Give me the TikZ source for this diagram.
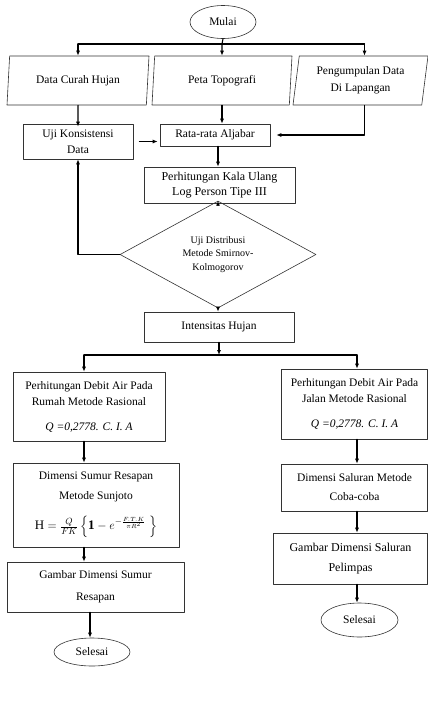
\documentclass[tikz,border=0pt]{standalone}
\usepackage{amsmath}
\usepackage{fontspec}
\setmainfont{Liberation Serif}
\usepackage{tikz}
\usetikzlibrary{arrows.meta, shapes.geometric, calc}

\begin{document}
\begin{tikzpicture}[x=1pt,y=-1pt,>={Latex[length=5pt,width=4pt]},line cap=round,line join=round,
  font=\fontsize{11.5}{16}\selectfont,
  proc/.style={draw=black!80, line width=0.6pt, rectangle, align=center, inner sep=1pt},
  io/.style={draw=black!80, line width=0.6pt, trapezium, trapezium left angle=78,
    trapezium right angle=102, trapezium stretches body, align=center, inner sep=1pt,
    minimum height=49},
  term/.style={draw=black!80, line width=0.6pt, ellipse, inner sep=0pt},
  decide/.style={draw=black!80, line width=0.6pt, diamond, inner sep=0pt, align=center,
    font=\fontsize{10}{13.5}\selectfont},
  flow/.style={->, line width=1.1pt}]
  \useasboundingbox (0,0) rectangle (428,710);

  % start and input data
  \node[term, minimum width=66, minimum height=33] (mulai) at (223,22) {Mulai};
  \node[io, minimum width=142] (curah) at (78,80.5) {Data Curah Hujan};
  \node[io, minimum width=140] (peta) at (222,80.5) {Peta Topografi};
  \node[io, minimum width=135] (lapangan) at (360.5,80.5) {Pengumpulan Data\\[1pt] Di Lapangan};

  % rainfall analysis
  \node[proc, minimum width=110, minimum height=35] (konsistensi) at (78,141.5) {Uji Konsistensi\\ Data};
  \node[proc, minimum width=110, minimum height=22] (aljabar) at (215,135) {Rata-rata Aljabar};
  \node[proc, minimum width=151, minimum height=36, font=\fontsize{12}{15}\selectfont]
    (kala) at (219.5,185) {Perhitungan Kala Ulang\\ Log Person Tipe III};
  \node[decide, minimum width=196, minimum height=81] (distribusi) at (218,254.5)
    {Uji Distribusi\\ Metode Smirnov-\\ Kolmogorov};
  \node[proc, minimum width=150, minimum height=30] (intensitas) at (219,327) {Intensitas Hujan};

  % left branch
  \node[proc, minimum width=152, minimum height=69] (debitrumah) at (89,406.5)
    {Perhitungan Debit Air Pada\\ Rumah Metode Rasional\\[9pt] \textit{Q =0,2778. C. I. A}};
  \node[proc, minimum width=166, minimum height=84, font=\fontsize{11.5}{20}\selectfont]
    (sumur) at (96,505)
    {Dimensi Sumur Resapan\\ Metode Sunjoto\\[10pt]
     \fontsize{13}{15}\selectfont
     $\mathrm{H} = \frac{Q}{F K}\left\{\mathbf{1} - e^{-\frac{F.T.K}{\pi R^2}}\;\right\}$};
  \node[proc, minimum width=177, minimum height=50, font=\fontsize{11.5}{22}\selectfont]
    (gambarsumur) at (95.5,587) {Gambar Dimensi Sumur\\ Resapan};
  \node[term, minimum width=76, minimum height=28] (selesaikiri) at (92,652) {Selesai};

  % right branch
  \node[proc, minimum width=146, minimum height=70] (debitjalan) at (354.5,404)
    {Perhitungan Debit Air Pada\\ Jalan Metode Rasional\\[9pt] \textit{Q =0,2778. C. I. A}};
  \node[proc, minimum width=146, minimum height=47, font=\fontsize{11.5}{19}\selectfont]
    (saluran) at (354.5,487.5) {Dimensi Saluran Metode\\ Coba-coba};
  \node[proc, minimum width=154, minimum height=51, font=\fontsize{12}{20}\selectfont]
    (gambarsaluran) at (350.5,558.5) {Gambar Dimensi Saluran\\ Pelimpas};
  \node[term, minimum width=77, minimum height=34] (selesaikanan) at (359.5,620) {Selesai};

  % connectors
  \coordinate (cabang) at (222,44);
  \draw[line width=1.1pt] (mulai.south) -- (cabang);
  \draw[line width=1.1pt] (cabang -| curah.north) -- ([xshift=4]cabang -| lapangan.north);
  \draw[flow] (cabang -| curah.north) -- (curah.north);
  \draw[flow] (cabang) -- (peta.north);
  \draw[flow] ([xshift=4]cabang -| lapangan.north) -- ([xshift=4]lapangan.north);

  \draw[flow] (curah.south) -- ([yshift=-3]konsistensi.north);
  \draw[flow] (peta.south) -- (peta.south |- aljabar.north);
  \draw[flow] ([xshift=6]konsistensi.east) -- ([xshift=-2]konsistensi.east -| aljabar.west);
  \draw[flow] ([xshift=4]lapangan.south) |- ([xshift=6]aljabar.east);
  \draw[flow] ([xshift=3]aljabar.south) -- ([xshift=3]aljabar.south |- kala.north);
  \draw[flow] ([xshift=-1.5]kala.south) -- (distribusi.north);
  \draw[flow] (distribusi.west) -| (konsistensi.south);
  \draw[flow] (distribusi.south) -- (distribusi.south |- intensitas.north);

  \coordinate (cabang2) at (219,355);
  \draw[flow] (intensitas.south) -- (cabang2);
  \draw[line width=1.1pt] (cabang2 -| 84,0) -- (cabang2 -| 357,0);
  \draw[flow] (cabang2 -| 84,0) -- (debitrumah.north -| 84,0);
  \draw[flow] (cabang2 -| 357,0) -- (debitjalan.north -| 357,0);

  \draw[flow] (debitrumah.south -| 84,0) -- (sumur.north -| 84,0);
  \draw[flow] (sumur.south -| 84,0) -- (gambarsumur.north -| 84,0);
  \draw[flow] (gambarsumur.south -| 90,0) -- (selesaikiri.north -| 90,0);

  \draw[flow] (debitjalan.south -| 357,0) -- (saluran.north -| 357,0);
  \draw[flow] (saluran.south -| 357,0) -- (gambarsaluran.north -| 357,0);
  \draw[flow] (gambarsaluran.south -| 357,0) -- (selesaikanan.north -| 357,0);
\end{tikzpicture}
\end{document}
